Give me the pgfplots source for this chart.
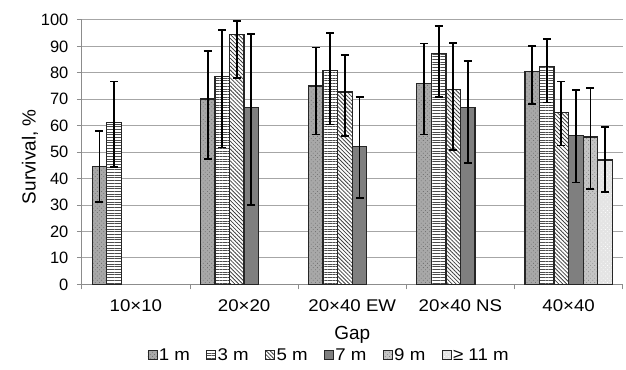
\documentclass[border=0pt]{standalone}
\usepackage{fontspec}
\setmainfont{Liberation Sans}
\newfontfamily\wide{Liberation Sans}[FakeStretch=1.1]
\usepackage{pgfplots}
\usepackage{pgfplotstable}
\pgfplotsset{compat=1.18}
\usetikzlibrary{patterns.meta}

\definecolor{gridc}{HTML}{A6A6A6}
\definecolor{axisc}{HTML}{8C8C8C}
\definecolor{onec}{HTML}{A8A8A8}
\definecolor{sevenc}{HTML}{7F7F7F}
\definecolor{ninec}{HTML}{C4C4C4}
\definecolor{elevenc}{HTML}{E4E4E4}

\pgfplotstableread{
x y ep em
0 44.5 13.6 13.2
1 70.1 18.3 22.8
2 75.0 14.6 18.3
3 76.1 15.0 19.4
4 80.5 9.7 12.3
}\one
\pgfplotstableread{
x y ep em
0 61.2 15.5 16.9
1 78.6 17.6 26.8
2 81.0 14.0 20.5
3 87.4 10.3 16.6
4 82.4 10.4 13.6
}\three
\pgfplotstableread{
x y ep em
1 94.5 5.2 16.3
2 72.8 14.0 16.8
3 73.7 17.7 22.9
4 64.9 11.8 12.4
}\five
\pgfplotstableread{
x y ep em
1 66.8 27.8 36.9
2 52.1 18.8 19.5
3 66.8 17.7 20.8
4 56.2 17.2 17.7
}\seven
\pgfplotstableread{
x y ep em
4 55.7 18.6 19.6
}\nine
\pgfplotstableread{
x y ep em
4 47.0 12.4 12.0
}\eleven

\begin{document}
\begin{tikzpicture}
\begin{axis}[
  width=542bp, height=265bp, scale only axis,
  xmin=-0.5, xmax=4.5, ymin=0, ymax=100,
  ytick={0,10,...,100},
  xtick={-0.5,0.5,1.5,2.5,3.5,4.5}, xticklabels={},
  extra x ticks={0,1,2,3,4},
  extra x tick labels={10×10,20×20,20×40 EW,20×40 NS,40×40},
  extra x tick style={major tick length=0pt, grid=none,
     xticklabel style={anchor=base, yshift=-27bp, font=\wide\fontsize{17bp}{20bp}\selectfont}},
  axis x line*=bottom, axis y line*=left,
  ymajorgrids, grid style={gridc, line width=1bp},
  axis line style={axisc, line width=1bp},
  tick style={axisc, line width=1bp},
  tick align=outside, major tick length=5bp,
  /pgf/number format/assume math mode=true,
  tick label style={font=\fontsize{16.5bp}{19bp}\selectfont},
  yticklabel style={xshift=-5bp},
  label style={font=\fontsize{19bp}{22bp}\selectfont},
  xlabel={Gap},
  xlabel style={at={(axis description cs:0.5,-0.2075)}, anchor=base},
  ylabel={Survival, \%},
  ylabel style={at={(axis description cs:-0.096,0.483)}, anchor=center},
  ybar=0pt, bar width=14.6bp,
  every axis plot/.append style={draw=black!85, line width=1.3bp},
  error bars/y dir=both, error bars/y explicit,
  error bars/error bar style={black, line width=1.9bp},
  error bars/error mark options={black, line width=1.8bp, mark size=4bp, rotate=90},
  legend columns=6,
  legend style={at={(axis description cs:0.4567,-0.268)}, anchor=center, draw=none,
     fill=none, font=\wide\fontsize{17bp}{20bp}\selectfont, nodes={inner sep=1.5bp},
     /tikz/every even column/.append style={column sep=15bp}},
  legend image code/.code={\draw[#1, line width=0.8bp] (0bp,-4.5bp) rectangle (9bp,4.5bp);},
]
\addplot[fill=onec, postaction={pattern={Dots[distance=3bp, radius=0.55bp, angle=45]}, pattern color=black!55}]
  table[x=x, y=y, y error plus=ep, y error minus=em]{\one};
\addplot[fill=white, postaction={pattern={Lines[angle=0, distance=2.7bp, line width=0.9bp]}, pattern color=black!70}]
  table[x=x, y=y, y error plus=ep, y error minus=em]{\three};
\addplot[fill=white, postaction={pattern={Lines[angle=-45, distance=2.8bp, line width=0.8bp]}, pattern color=black!75}]
  table[x=x, y=y, y error plus=ep, y error minus=em]{\five};
\addplot[fill=sevenc]
  table[x=x, y=y, y error plus=ep, y error minus=em]{\seven};
\addplot[fill=ninec, postaction={pattern={Dots[distance=3bp, radius=0.5bp, angle=45]}, pattern color=gray}]
  table[x=x, y=y, y error plus=ep, y error minus=em]{\nine};
\addplot[fill=elevenc, postaction={pattern={Dots[distance=3bp, radius=0.5bp, angle=45]}, pattern color=white}]
  table[x=x, y=y, y error plus=ep, y error minus=em]{\eleven};
\legend{1 m,3 m,5 m,7 m,9 m,≥ 11 m}
\end{axis}
\path ([shift={(-82bp,-85bp)}]current axis.south west) rectangle ([shift={(2bp,20bp)}]current axis.north east);
\end{tikzpicture}
\end{document}
